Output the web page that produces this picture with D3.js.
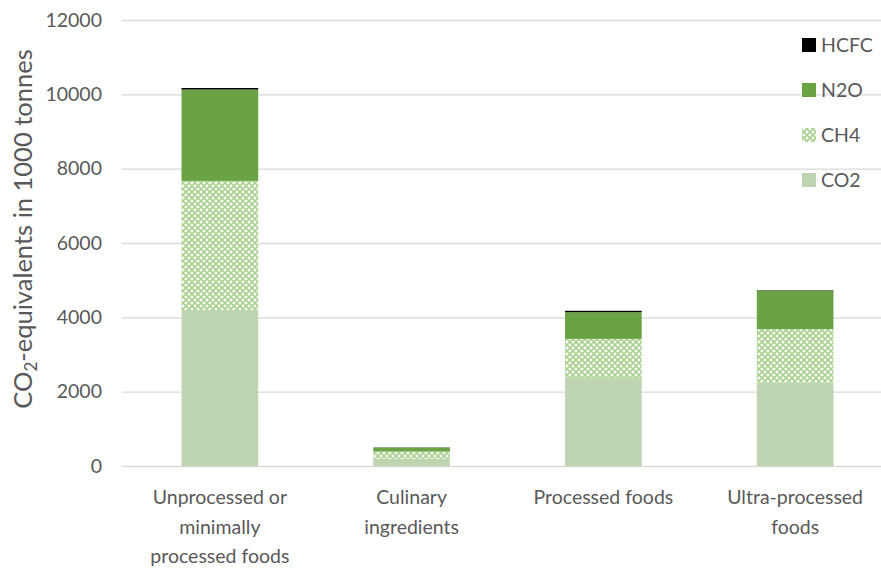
<!DOCTYPE html>
<html>
<head>
<meta charset="utf-8">
<script src="https://cdn.jsdelivr.net/npm/d3@7"></script>
<style>
  html, body { margin: 0; padding: 0; background: #fff; }
  svg { display: block; font-family: Lato, "Open Sans", "Liberation Sans", sans-serif; }
</style>
</head>
<body>
<svg id="chart" width="881" height="568"></svg>
<script>
// Food processing groups (one label line per array entry)
const categories = [
  ["Unprocessed or", "minimally", "processed foods"],
  ["Culinary", "ingredients"],
  ["Processed foods"],
  ["Ultra-processed", "foods"]
];
const seriesNames = ["CO2", "CH4", "N2O", "HCFC"];
// CO2-equivalents in 1000 tonnes, per gas, per group
const co2  = [4200, 200, 2390, 2250];
const ch4  = [3470, 190, 1030, 1430];
const n2o  = [2460, 110,  720, 1040];
const hcfc = [  40,   3,   35,   10];
const yTicks = [0, 2000, 4000, 6000, 8000, 10000, 12000];

const rows = categories.map((c, i) => ({
  key: i, CO2: co2[i], CH4: ch4[i], N2O: n2o[i], HCFC: hcfc[i]
}));

const svg = d3.select("#chart");
const textColor = "#595959";

const plot = { left: 124, right: 891, top: 20, bottom: 466 };

const x = d3.scaleBand()
  .domain(rows.map(d => d.key))
  .range([plot.left, plot.right])
  .paddingInner(0.6)
  .paddingOuter(0.3);

const y = d3.scaleLinear().domain([0, 12000]).range([plot.bottom, plot.top]);

// Pattern for CH4: light green lattice on white
const defs = svg.append("defs");
const pat = defs.append("pattern")
  .attr("id", "ch4pat")
  .attr("patternUnits", "userSpaceOnUse")
  .attr("width", 6).attr("height", 6);
pat.append("rect").attr("width", 6).attr("height", 6).attr("fill", "#ffffff");
pat.append("path")
  .attr("d", "M0,0L6,6M6,0L0,6M-3,3L3,-3M3,9L9,3M-3,3L3,9M3,-3L9,3")
  .attr("stroke", "#a9d18e").attr("stroke-width", 1.6).attr("fill", "none");

const fills = {
  CO2: "#bfd5b1",
  CH4: "url(#ch4pat)",
  N2O: "#6aa343",
  HCFC: "#000000"
};

// Gridlines and tick labels
const yAxis = d3.axisLeft(y).tickValues(yTicks).tickSize(-(881 - plot.left + 2)).tickFormat(d3.format("d"));
const ga = svg.append("g").attr("transform", `translate(${plot.left - 2},0)`).call(yAxis);
ga.select(".domain").remove();
ga.selectAll(".tick line").attr("stroke", "#d9d9d9").attr("stroke-width", 1.3);
ga.selectAll(".tick text")
  .attr("x", -20)
  .attr("fill", textColor)
  .attr("font-size", 19.5)
  .attr("font-family", "Lato, 'Open Sans', sans-serif");

// Stacked bars
const stack = d3.stack().keys(seriesNames)(rows);
svg.append("g").selectAll("g")
  .data(stack)
  .join("g")
  .attr("fill", s => fills[s.key])
  .selectAll("rect")
  .data(s => s)
  .join("rect")
  .attr("x", d => x(d.data.key))
  .attr("width", x.bandwidth())
  .attr("y", d => y(d[1]))
  .attr("height", d => Math.max(0, y(d[0]) - y(d[1])));

// Category labels
const catG = svg.append("g");
rows.forEach((r, i) => {
  const cx = x(r.key) + x.bandwidth() / 2;
  categories[i].forEach((line, j) => {
    catG.append("text")
      .attr("x", cx)
      .attr("y", 504 + j * 29.5)
      .attr("text-anchor", "middle")
      .attr("fill", textColor)
      .attr("font-size", 19.5)
      .text(line);
  });
});

// Legend (top to bottom: HCFC, N2O, CH4, CO2)
const legendOrder = ["HCFC", "N2O", "CH4", "CO2"];
const lg = svg.append("g");
legendOrder.forEach((k, i) => {
  const cy = 45 + i * 45;
  lg.append("rect")
    .attr("x", 802).attr("y", cy - 7)
    .attr("width", 14).attr("height", 14)
    .attr("fill", fills[k]);
  lg.append("text")
    .attr("x", 821).attr("y", cy + 7)
    .attr("fill", textColor)
    .attr("font-size", 19.5)
    .text(k);
});

// Y axis title with subscript
const title = svg.append("text")
  .attr("transform", "translate(32,229) rotate(-90)")
  .attr("text-anchor", "middle")
  .attr("fill", textColor)
  .attr("font-size", 25.5);
title.append("tspan").text("CO");
title.append("tspan").attr("font-size", 17).attr("dy", 5).text("2");
title.append("tspan").attr("dy", -5).text("-equivalents in 1000 tonnes");
</script>
</body>
</html>
